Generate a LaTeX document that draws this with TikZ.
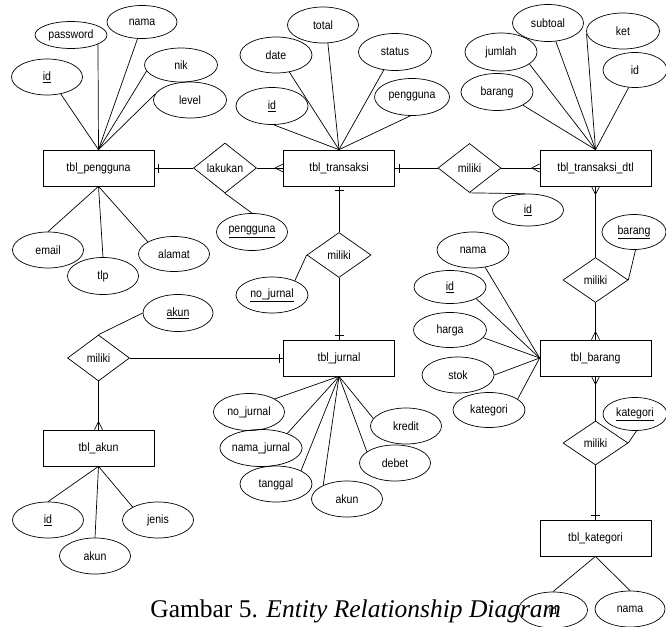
\documentclass[tikz,border=0pt]{standalone}
\usepackage{fontspec}
\setmainfont{Liberation Sans}[FakeStretch=0.88]
\newfontfamily\capfont{Liberation Serif}
\usetikzlibrary{shapes.geometric}
\tikzset{
  lbl/.style={font=\fontsize{12}{14}\selectfont, text=black},
  ent/.style={lbl, draw, rectangle, minimum width=111pt, minimum height=36pt, inner sep=0pt},
  att/.style={lbl, draw, ellipse, minimum width=72pt, minimum height=36pt, inner sep=0pt},
  rel/.style={lbl, draw, diamond, minimum width=63pt, minimum height=48pt, inner sep=0pt, shape aspect=1.3},
  ln/.style={draw, line width=0.7pt},
  crow/.pic={\draw[line width=0.7pt] (-8,0) -- (0,-4) (-8,0) -- (0,4);},
  onebar/.pic={\draw[line width=0.7pt] (-4,-4.5) -- (-4,4.5);}
}
\begin{document}
\begin{tikzpicture}[x=1pt,y=-1pt, line width=0.7pt]
\useasboundingbox (0,0) rectangle (666,626);

% entities
\node[ent] (peng) at (98.5,168) {tbl\_pengguna};
\node[ent] (trans) at (339,168) {tbl\_transaksi};
\node[ent] (dtl) at (595.5,168) {tbl\_transaksi\_dtl};
\node[ent] (jur) at (339,358) {tbl\_jurnal};
\node[ent] (brg) at (595.5,358) {tbl\_barang};
\node[ent] (akn) at (98.5,448) {tbl\_akun};
\node[ent] (kat) at (595.5,538) {tbl\_kategori};

% relationships
\node[rel, minimum height=50pt] (lak) at (225,168) {lakukan};
\node[rel, minimum height=49pt] (r1) at (469.5,168) {miliki};
\node[rel, minimum width=64pt, minimum height=45pt] (r2) at (339,255) {miliki};
\node[rel, minimum width=62pt, minimum height=46pt] (r3) at (98.5,358) {miliki};
\node[rel, minimum width=65pt, minimum height=45pt] (r4) at (595.5,280) {miliki};
\node[rel, minimum width=65pt, minimum height=44pt] (r5) at (595.5,443) {miliki};

% attributes of tbl_pengguna
\node[att, minimum width=71pt] (apid) at (47,77) {\underline{id}};
\node[att, minimum height=27pt] (appass) at (71,35) {password};
\node[att, minimum width=70pt, minimum height=33pt] (apnama) at (142,22) {nama};
\node[att, minimum width=73pt, minimum height=34pt] (apnik) at (181,65) {nik};
\node[att, minimum width=73pt] (aplevel) at (190,100) {level};
\node[att, minimum width=71pt] (apemail) at (48,250) {email};
\node[att, minimum width=71pt, minimum height=37pt] (aptlp) at (103,276) {tlp};
\node[att, minimum width=71pt, minimum height=35pt] (apalamat) at (174,254) {alamat};

% attributes of tbl_transaksi
\node[att, minimum width=71pt] (attotal) at (323,25) {total};
\node[att] (atdate) at (276,55) {date};
\node[att, minimum width=73pt, minimum height=37pt] (atstatus) at (395,52) {status};
\node[att, minimum height=37pt] (atid) at (272,106) {\underline{id}};
\node[att, minimum width=75pt, minimum height=37pt] (atpeng) at (412,97) {pengguna};
\node[att, minimum width=71pt, minimum height=37pt] (alpeng) at (252,232) {\underline{pengguna}};

% attributes of tbl_transaksi_dtl
\node[att, minimum width=71pt, minimum height=37pt] (adsub) at (548,23) {subtoal};
\node[att, minimum width=73pt] (adket) at (623,31) {ket};
\node[att, minimum height=38pt] (adjml) at (501,52) {jumlah};
\node[att, minimum width=64pt, minimum height=35pt] (adid) at (635,70) {id};
\node[att, minimum height=37pt] (adbrg) at (497,92) {barang};
\node[att, minimum width=71pt, minimum height=32pt] (ar1id) at (528,210) {\underline{id}};

% attributes of tbl_barang
\node[att, minimum width=64pt, minimum height=35pt] (ar4brg) at (634,232) {\underline{barang}};
\node[att] (abnama) at (473,250) {nama};
\node[att, minimum height=33pt] (abid) at (450,287) {\underline{id}};
\node[att, minimum width=73pt, minimum height=35pt] (abharga) at (450,330) {harga};
\node[att] (abstok) at (458,375) {stok};
\node[att, minimum height=35pt] (abkat) at (489,410) {kategori};
\node[att, minimum width=64pt, minimum height=33pt] (ar5kat) at (635,414) {\underline{kategori}};

% attributes of tbl_jurnal
\node[att] (ar2nj) at (272,295) {\underline{no\_jurnal}};
\node[att, minimum width=71pt, minimum height=37pt] (ajno) at (249,412) {no\_jurnal};
\node[att, minimum height=37pt] (ajnama) at (261,448) {nama\_jurnal};
\node[att] (ajtgl) at (276,484) {tanggal};
\node[att, minimum width=71pt] (ajakun) at (347,499) {akun};
\node[att, minimum width=71pt] (ajdebet) at (395,463) {debet};
\node[att, minimum width=71pt] (ajkredit) at (406,426) {kredit};

% attributes of tbl_akun
\node[att, minimum width=70pt, minimum height=37pt] (ar3akun) at (178,313) {\underline{akun}};
\node[att, minimum width=71pt] (aaid) at (48,520) {\underline{id}};
\node[att, minimum width=71pt] (aaakun) at (95,556) {akun};
\node[att, minimum width=71pt] (aajenis) at (158,520) {jenis};

% attributes of tbl_kategori
\node[att, minimum width=69pt] (akid) at (553,610) {id};
\node[att, minimum width=70pt] (aknama) at (630,609) {nama};

% attribute connectors
\draw[ln] (peng.north) -- (apid.-51);
\draw[ln] (peng.north) -- (appass.-19);
\draw[ln] (peng.north) -- (apnama.-105);
\draw[ln] (peng.north) -- (apnik.190);
\draw[ln] (peng.north) -- (aplevel.170);
\draw[ln] (peng.south) -- (apemail.north);
\draw[ln] (peng.south) -- (aptlp.north);
\draw[ln] (peng.south) -- (apalamat.155);

\draw[ln] (trans.north) -- (attotal.-75);
\draw[ln] (trans.north) -- (atdate.-52);
\draw[ln] (trans.north) -- (atstatus.-122);
\draw[ln] (trans.north) -- (atid.-85);
\draw[ln] (trans.north) -- (atpeng.-95);

\draw[ln] (dtl.north) -- (adsub.-67);
\draw[ln] (dtl.north) -- (adket.184);
\draw[ln] (dtl.north) -- (adjml.-23);
\draw[ln] (dtl.north) -- (adid.-110);
\draw[ln] (dtl.north) -- (adbrg.-27);

\draw[ln] (brg.west) -- (abnama.-55);
\draw[ln] (brg.west) -- (abid.-24);
\draw[ln] (brg.west) -- (abharga.-13);
\draw[ln] (brg.west) -- (abstok.0);
\draw[ln] (brg.west) -- (abkat.21);

\draw[ln] (jur.south) -- (ajno.27);
\draw[ln] (jur.south) -- (ajnama.29);
\draw[ln] (jur.south) -- (ajtgl.28);
\draw[ln] (jur.south) -- (ajakun.150);
\draw[ln] (jur.south) -- (ajdebet.158);
\draw[ln] (jur.south) -- (ajkredit.167);

\draw[ln] (akn.south) -- (aaid.north);
\draw[ln] (akn.south) -- (aaakun.north);
\draw[ln] (akn.south) -- (aajenis.153);

\draw[ln] (kat.south) -- (akid.north);
\draw[ln] (kat.south) -- (aknama.north);

\draw[ln] (lak.south) -- (alpeng.north);
\draw[ln] (r1.south) -- (ar1id.100);
\draw[ln] (r2.west) -- (ar2nj.32);
\draw[ln] (r3.north) -- (ar3akun.west);
\draw[ln] (r4.east) -- (ar4brg.-85);
\draw[ln] (r5.east) -- (ar5kat.-85);

% relationship connectors
\draw[ln] (peng.east) -- (lak.west);
\draw[ln] (lak.east) -- (trans.west);
\draw[ln] (trans.east) -- (r1.west);
\draw[ln] (r1.east) -- (dtl.west);
\draw[ln] (trans.south) -- (r2.north);
\draw[ln] (r2.south) -- (jur.north);
\draw[ln] (r3.east) -- (jur.west);
\draw[ln] (r3.south) -- (akn.north);
\draw[ln] (dtl.south) -- (r4.north);
\draw[ln] (r4.south) -- (brg.north);
\draw[ln] (brg.south) -- (r5.north);
\draw[ln] (r5.south) -- (kat.north);

% cardinality markers
\pic[rotate=180] at (peng.east) {onebar};
\pic at (trans.west) {crow};
\pic[rotate=180] at (trans.east) {onebar};
\pic at (dtl.west) {crow};
\pic[rotate=90] at (trans.south) {onebar};
\pic[rotate=-90] at (jur.north) {onebar};
\pic at (jur.west) {onebar};
\pic[rotate=-90] at (akn.north) {crow};
\pic[rotate=90] at (dtl.south) {crow};
\pic[rotate=-90] at (brg.north) {crow};
\pic[rotate=90] at (brg.south) {crow};
\pic[rotate=-90] at (kat.north) {onebar};

% caption
\node[anchor=base west, inner sep=0pt, font=\capfont\fontsize{25.5}{30}\selectfont] (cap) at (150,617) {Gambar 5. \textit{Entity Relationship Diagram}};
\end{tikzpicture}
\end{document}
